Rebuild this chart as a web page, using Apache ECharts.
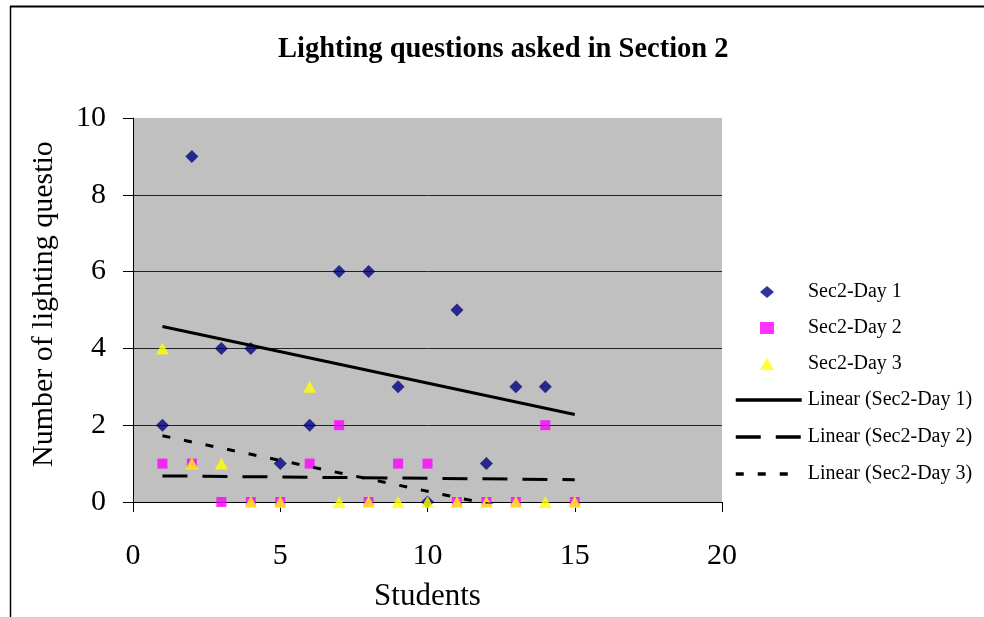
<!DOCTYPE html>
<html>
<head>
<meta charset="utf-8">
<script src="https://cdn.jsdelivr.net/npm/echarts@6/dist/echarts.min.js"></script>
<style>
html,body{margin:0;padding:0;background:#fff;}
#c{width:984px;height:617px;}
</style>
</head>
<body>
<div id="c"></div>
<script>
// ---- data ----
const students = [1,2,3,4,5,6,7,8,9,10,11,12,13,14,15];
const day1 = [2,9,4,4,1,2,6,6,3,0,5,1,3,3];
const day2 = [1,1,0,0,0,1,2,0,1,1,0,0,0,2,0];
const day3 = [4,1,1,0,0,3,0,0,0,0,0,0,0,0,0];
const trendX = [1,15];
const trend1 = [4.57,2.28];
const trend2 = [0.68,0.58];
const trend3 = [1.725,-0.525];
const xTicks = [0,5,10,15,20];
const yTicks = [0,2,4,6,8,10];
const names = ['Sec2-Day 1','Sec2-Day 2','Sec2-Day 3','Linear (Sec2-Day 1)','Linear (Sec2-Day 2)','Linear (Sec2-Day 3)'];

const pairs = (xs, ys) => ys.map((y,i)=>[xs[i], y]);
const FONT = 'Liberation Serif, Times New Roman, serif';

const chart = echarts.init(document.getElementById('c'), null, {renderer:'canvas'});
chart.setOption({
  backgroundColor:'#ffffff',
  animation:false,
  title:{
    text:'Lighting questions asked in Section 2',
    left:273, top:30,
    textStyle:{fontFamily:FONT, fontWeight:'bold', fontSize:28.5, color:'#000'}
  },
  grid:{left:133, top:118, width:589, height:384, show:true, backgroundColor:'#C0C0C0', borderWidth:0, containLabel:false},
  xAxis:{
    type:'value', min:xTicks[0], max:xTicks[xTicks.length-1], interval:5,
    name:'Students', nameLocation:'middle', nameGap:79,
    nameTextStyle:{fontFamily:FONT, fontSize:31, color:'#000'},
    axisLine:{show:true, onZero:false, lineStyle:{color:'#000', width:1}},
    axisTick:{show:true, inside:false, length:10, lineStyle:{color:'#000'}},
    axisLabel:{fontFamily:FONT, fontSize:30, color:'#000', margin:39},
    splitLine:{show:false}
  },
  yAxis:{
    type:'value', min:yTicks[0], max:yTicks[yTicks.length-1], interval:2,
    axisLine:{show:true, onZero:false, lineStyle:{color:'#000', width:1}},
    axisTick:{show:true, inside:false, length:10, lineStyle:{color:'#000'}},
    axisLabel:{fontFamily:FONT, fontSize:30, color:'#000', margin:27},
    splitLine:{show:true, showMaxLine:false, showMinLine:false, lineStyle:{color:'#222', width:1}}
  },
  legend:[
    {
      data:names.slice(0,3), orient:'vertical', left:760, top:282, padding:0,
      itemWidth:14, itemHeight:12, itemGap:16,
      textStyle:{fontFamily:FONT, fontSize:20, color:'#000', lineHeight:20, padding:[0,0,0,29]}
    },
    {
      data:names.slice(3), orient:'vertical', left:734, top:390, padding:0,
      itemWidth:66, itemHeight:12, itemGap:17,
      itemStyle:{color:'rgba(0,0,0,0)', borderWidth:0, opacity:0},
      lineStyle:{width:3.5},
      textStyle:{fontFamily:FONT, fontSize:20, color:'#000', lineHeight:20, padding:[0,0,0,1]}
    }
  ],
  graphic:[
    {type:'line', shape:{x1:10, y1:6.5, x2:984, y2:6.5}, style:{stroke:'#000', lineWidth:2}, silent:true},
    {type:'line', shape:{x1:10.5, y1:6, x2:10.5, y2:617}, style:{stroke:'#000', lineWidth:1.5}, silent:true},
    {type:'text', x:44, y:467, rotation:Math.PI/2, silent:true,
     style:{text:'Number of lighting questions', font:'30px ' + FONT, fill:'#000',
            align:'left', verticalAlign:'middle', width:334, overflow:'truncate', ellipsis:''}}
  ],
  series:[
    {name:names[0], type:'scatter', data:pairs(students, day1), symbol:'diamond', symbolSize:13,
     itemStyle:{color:'#000080'}, z:2},
    {name:names[1], type:'scatter', data:pairs(students, day2), symbol:'rect', symbolSize:10,
     itemStyle:{color:'#FF00FF'}, z:2},
    {name:names[2], type:'scatter', data:pairs(students, day3), symbol:'triangle', symbolSize:[13,12],
     itemStyle:{color:'#FFFF00'}, z:2},
    {name:names[3], type:'line', data:pairs(trendX, trend1), symbol:'none', clip:true,
     itemStyle:{color:'#000'}, lineStyle:{color:'#000', width:3, type:'solid'}, z:3},
    {name:names[4], type:'line', data:pairs(trendX, trend2), symbol:'none', clip:true,
     itemStyle:{color:'#000'}, lineStyle:{color:'#000', width:3, type:[25,15]}, z:3},
    {name:names[5], type:'line', data:pairs(trendX, trend3), symbol:'none', clip:true,
     itemStyle:{color:'#000'}, lineStyle:{color:'#000', width:3, type:[8,14]}, z:3}
  ]
});
</script>
</body>
</html>
